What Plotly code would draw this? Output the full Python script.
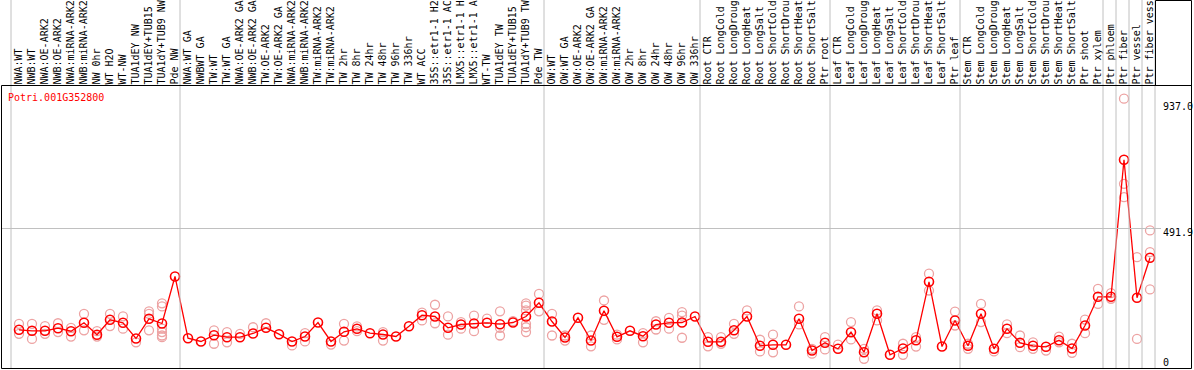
import plotly.graph_objects as go

# ---------------- data ----------------
sample_labels = [
    "NWA:WT", "NWB:WT", "NWA:OE-ARK2", "NWB:OE-ARK2", "NWA:miRNA-ARK2", "NWB:miRNA-ARK2",
    "NW 0hr", "WT H2O", "WT-NW", "TUA1dEY NW", "TUA1dEY+TUB15", "TUA1dY+TUB9 NW", "Pde NW",
    "NWA:WT GA", "NWBWT GA", "TW:WT", "TW:WT GA", "NWA:OE-ARK2 GA", "NWB:OE-ARK2 GA",
    "TW:OE-ARK2", "TW:OE-ARK2 GA", "NWA:miRNA-ARK2", "NWB:miRNA-ARK2", "TW:miRNA-ARK2",
    "TW:miRNA-ARK2", "TW 2hr", "TW 8hr", "TW 24hr", "TW 48hr", "TW 96hr", "TW 336hr", "WT ACC",
    "35S::etr1-1 H2O", "35S::etr1-1 ACC", "LMX5::etr1-1 H2O", "LMX5::etr1-1 ACC", "WT-TW",
    "TUA1dEY TW", "TUA1dEY+TUB15", "TUA1dY+TUB9 TW", "Pde TW",
    "OW:WT", "OW:WT GA", "OW:OE-ARK2", "OW:OE-ARK2 GA", "OW:miRNA-ARK2", "OW:miRNA-ARK2",
    "OW 2hr", "OW 8hr", "OW 24hr", "OW 48hr", "OW 96hr", "OW 336hr",
    "Root CTR", "Root LongCold", "Root LongDrought", "Root LongHeat", "Root LongSalt",
    "Root ShortCold", "Root ShortDrought", "Root ShortHeat", "Root ShortSalt", "Ptr root",
    "Leaf CTR", "Leaf LongCold", "Leaf LongDrought", "Leaf LongHeat", "Leaf LongSalt",
    "Leaf ShortCold", "Leaf ShortDrought", "Leaf ShortHeat", "Leaf ShortSalt", "Ptr leaf",
    "Stem CTR", "Stem LongCold", "Stem LongDrought", "Stem LongHeat", "Stem LongSalt",
    "Stem ShortCold", "Stem ShortDrought", "Stem ShortHeat", "Stem ShortSalt", "Ptr shoot",
    "Ptr xylem",
    "Ptr phloem", "Ptr fiber", "Ptr vessel", "Ptr fiber vessel",
]

group_sizes = [13, 28, 12, 10, 10, 11, 1, 1, 1, 1]

mean_values = [
    136.0, 132.5, 132.5, 141.6, 131.1, 160.6, 118.4, 171.1, 160.6, 105.4, 174.6, 158.1, 323.3,
    106.5, 94.9, 117.0, 110.0, 110.0, 123.0, 143.0, 120.5, 94.9, 112.4, 161.6, 94.9, 129.0,
    139.5, 124.0, 119.5, 112.4, 148.6, 187.3, 182.7, 143.0, 154.6, 158.1, 160.6, 155.7, 161.6,
    182.7, 230.8,
    165.1, 108.9, 178.1, 98.4, 202.7, 111.4, 132.5, 113.5, 154.6, 160.6, 161.6, 182.7,
    93.8, 93.8, 134.6, 182.7, 79.8, 83.3, 83.3, 174.6, 63.2, 90.3,
    69.2, 127.5, 57.3, 192.2, 48.1, 70.3, 99.4, 304.6, 77.3, 168.7,
    79.8, 192.2, 69.2, 139.5, 90.3, 79.8, 76.2, 99.4, 70.3, 151.1, 251.9,
    251.9, 733.3, 248.4, 389.0,
]

replicate_values = [
    [157, 122], [157, 104], [149, 122], [159, 128], [143, 112], [192, 134], [131, 112],
    [192, 149], [183, 140], [92], [201, 192, 134], [229, 218, 140, 128, 116, 110], [],
    [], [], [134, 87], [128, 92], [122], [145], [159], [], [81], [124, 95], [], [84],
    [157, 98], [148, 131], [], [128, 98], [], [], [196, 169], [224, 159], [183, 119],
    [163, 140], [186, 131], [175], [201, 143, 116], [166], [229, 221, 204, 157, 145, 128],
    [262, 201],
    [192, 116], [116, 98], [], [116, 78], [239, 171], [119, 102], [], [124, 92], [166, 137],
    [178, 140], [198, 186, 108], [],
    [110, 78], [110, 87], [157, 122], [204], [101, 60], [119, 57], [], [218, 155], [69, 52],
    [110, 67],
    [84], [163, 102], [69, 34], [204, 169], [], [87, 48], [110, 77], [333, 274], [], [200, 151],
    [87, 69], [227, 163], [60], [155, 124], [116, 75], [92, 69], [63], [112, 92], [87, 55],
    [172, 124], [280, 227],
    [265, 245], [948, 649, 602], [391, 104], [485, 409, 278],
]

gene_id = "Potri.001G352800"
y_tick_vals = [937.0, 491.9, 0]
y_tick_text = ["937.0", "491.9", "0"]
grid_vals = [491.9]

# ---------------- layout geometry (pixels) ----------------
W, H = 1194, 370
col_w = 13.0
first_center = 19.0
plot_top, plot_bottom = 85.5, 368.5
left_px, right_px = 1.5, 1191.5
label_box_px = 1155.5

def px_x(p):
    return p / W

def px_y(p):
    return (H - p) / H

x_idx = list(range(len(sample_labels)))
x_range = [(0 - first_center) / col_w, (W - first_center) / col_w]
px_per_unit = 140.0 / 491.9
y_range = [0, (plot_bottom - plot_top) / px_per_unit]

rep_x, rep_y = [], []
for i, reps in enumerate(replicate_values):
    for v in reps:
        rep_x.append(i)
        rep_y.append(v)

fig = go.Figure()
fig.add_trace(go.Scatter(
    x=rep_x, y=rep_y, mode="markers",
    marker=dict(symbol="circle-open", size=9, color="#eda3a3", line=dict(width=1.3)),
    hoverinfo="skip", showlegend=False,
))
fig.add_trace(go.Scatter(
    x=x_idx, y=mean_values, mode="lines+markers",
    line=dict(color="#ff0000", width=1.3),
    marker=dict(symbol="circle-open", size=9, color="#ff0000", line=dict(width=1.6)),
    showlegend=False,
))

shapes = []
b = 0
bounds = [0]
for g in group_sizes:
    b += g
    bounds.append(b)
for bd in bounds:
    xb = bd - 8.0 / col_w
    shapes.append(dict(type="line", xref="x", yref="paper", x0=xb, x1=xb,
                       y0=px_y(plot_bottom), y1=1.0, line=dict(color="#c0c0c0", width=1)))
for gv in grid_vals:
    shapes.append(dict(type="line", xref="paper", yref="y", x0=px_x(left_px), x1=px_x(1161),
                       y0=gv, y1=gv, line=dict(color="#c0c0c0", width=1)))
blk = dict(color="#000000", width=1)
shapes += [
    dict(type="line", xref="paper", yref="paper", x0=px_x(left_px), x1=px_x(right_px),
         y0=px_y(plot_top), y1=px_y(plot_top), line=blk),
    dict(type="line", xref="paper", yref="paper", x0=px_x(left_px), x1=px_x(right_px),
         y0=px_y(plot_bottom), y1=px_y(plot_bottom), line=blk),
    dict(type="line", xref="paper", yref="paper", x0=px_x(left_px), x1=px_x(left_px),
         y0=px_y(plot_top), y1=px_y(plot_bottom), line=blk),
    dict(type="line", xref="paper", yref="paper", x0=px_x(right_px), x1=px_x(right_px),
         y0=px_y(0.5), y1=px_y(plot_bottom), line=blk),
    dict(type="line", xref="paper", yref="paper", x0=px_x(label_box_px), x1=px_x(label_box_px),
         y0=px_y(0.5), y1=px_y(plot_top), line=blk),
    dict(type="line", xref="paper", yref="paper", x0=px_x(label_box_px), x1=px_x(right_px),
         y0=px_y(0.5), y1=px_y(0.5), line=blk),
]

mono = "DejaVu Sans Mono"
annotations = [dict(text=gene_id, xref="paper", yref="paper", x=px_x(6), y=px_y(97),
                    xanchor="left", yanchor="middle", showarrow=False,
                    font=dict(family=mono, size=10, color="#ff0000"))]
y_shifts = [-5, -4, 6]
for v, t, s in zip(y_tick_vals, y_tick_text, y_shifts):
    annotations.append(dict(text=t, xref="paper", yref="y", x=px_x(1161), y=v, yshift=s,
                            xanchor="left", yanchor="middle", showarrow=False,
                            font=dict(family=mono, size=10, color="#000000")))

fig.update_layout(
    width=W, height=H,
    margin=dict(l=0, r=0, t=0, b=0),
    paper_bgcolor="white", plot_bgcolor="white",
    shapes=shapes, annotations=annotations,
    xaxis=dict(range=x_range, domain=[0, 1], side="top", tickmode="array",
               tickvals=x_idx, ticktext=sample_labels, tickangle=-90,
               tickfont=dict(family=mono, size=10, color="#000000"),
               showgrid=False, zeroline=False, showline=False, ticks="",
               automargin=False, fixedrange=True),
    yaxis=dict(range=y_range, domain=[px_y(plot_bottom), px_y(plot_top)],
               showgrid=False, zeroline=False, showline=False, showticklabels=False,
               ticks="", automargin=False, fixedrange=True),
)

fig.write_html(
    "out.html",
    config={"displayModeBar": False},
    post_script="document.body.style.margin='0';document.body.style.overflow='hidden';",
)
